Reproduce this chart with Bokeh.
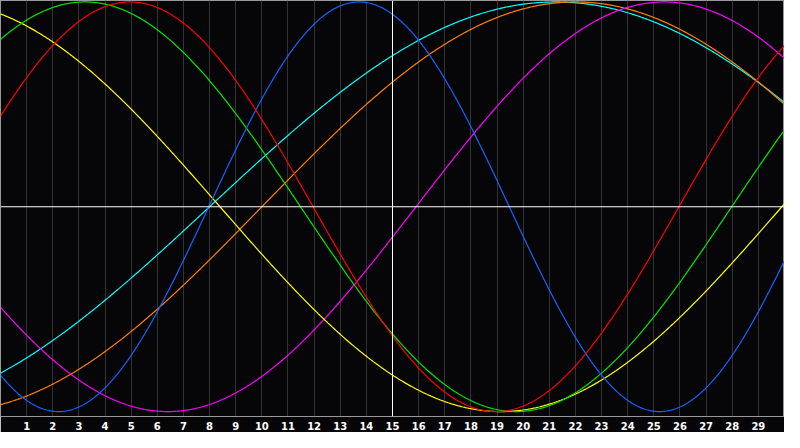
import numpy as np
from bokeh.plotting import figure
from bokeh.models import Range1d, FixedTicker, Span
from bokeh.embed import file_html
from bokeh.resources import INLINE

# ---- data (biorhythm cycles) ----
days = list(range(1, 30))
day_labels = [str(d) for d in days]
cycle_names = ["Physical", "Emotional", "Intellectual", "Intuitive",
               "Aesthetic", "Awareness", "Spiritual"]
periods = [23, 28, 33, 38, 43, 48, 53]                   # cycle length in days
zero_days = [7.97, -2.04, -5.02, 15.9, -13.1, 10.0, 8.0]  # day of upward zero crossing
colors = ["#1464ff", "#ff0000", "#00e600", "#ff00ff", "#ffff00", "#ff8000", "#00ffff"]
today = 15

BG = "#060608"
p = figure(width=784, height=432,
           x_range=Range1d(0, 30), y_range=Range1d(-1.024, 1.007),
           output_backend="svg", toolbar_location=None,
           background_fill_color=BG, border_fill_color=BG,
           min_border_left=0, min_border_right=0, min_border_top=0, min_border_bottom=0,
           y_axis_location=None)

p.outline_line_color = "#999999"
p.outline_line_width = 1

ax = p.xaxis[0]
ax.ticker = FixedTicker(ticks=days)
ax.major_label_overrides = {d: s for d, s in zip(days, day_labels)}
ax.major_tick_out = 0
ax.major_tick_in = 0
ax.minor_tick_out = 0
ax.minor_tick_in = 0
ax.axis_line_color = "#999999"
ax.major_label_text_color = "white"
ax.major_label_text_font = "DejaVu Sans"
ax.major_label_text_font_style = "bold"
ax.major_label_text_font_size = "10px"
ax.major_label_standoff = 5

p.xgrid.ticker = FixedTicker(ticks=days)
p.xgrid.grid_line_color = "#333333"
p.xgrid.grid_line_width = 1
p.ygrid.visible = False

x = np.linspace(0, 30, 901)
order = [6, 5, 3, 4, 2, 0, 1]
for i in order:
    y = np.sin(2 * np.pi * (x - zero_days[i]) / periods[i])
    p.line(x, y, line_color=colors[i], line_width=1.2, name=cycle_names[i])

p.add_layout(Span(location=0, dimension="width", line_color="white", line_width=1))
p.add_layout(Span(location=today, dimension="height", line_color="white", line_width=1))

open("out.html", "w").write(file_html(p, INLINE))
